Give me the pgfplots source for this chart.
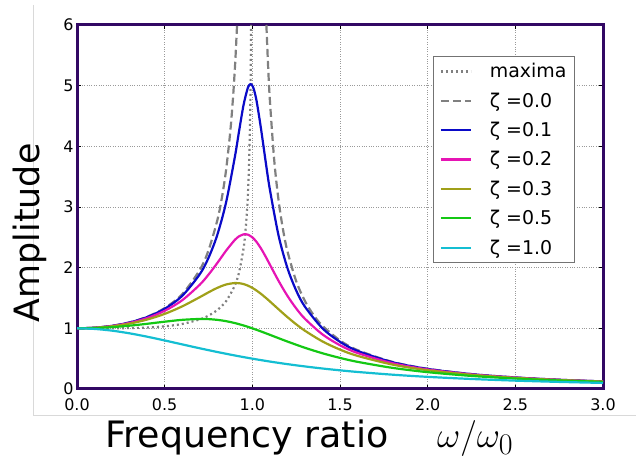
\documentclass[border=0pt]{standalone}
\usepackage{graphicx}
\usepackage{fontspec}
\setmainfont{DejaVu Sans}
\usepackage{pgfplots}
\pgfplotsset{compat=1.18}
\definecolor{framec}{RGB}{50,8,100}
\definecolor{cgray}{RGB}{128,128,128}
\definecolor{cblue}{RGB}{10,10,200}
\definecolor{cmag}{RGB}{230,20,180}
\definecolor{colive}{RGB}{160,160,25}
\definecolor{cgreen}{RGB}{20,200,20}
\definecolor{ccyan}{RGB}{20,190,210}

\begin{document}
\begin{tikzpicture}[x=1bp,y=1bp]
\useasboundingbox (0,0) rectangle (636,460);
\draw[black!15, line width=0.8bp] (33,455) -- (33,45) -- (636,45);
\begin{axis}[
    at={(77bp,71bp)}, anchor=south west,
    scale only axis, width=526bp, height=364bp,
    xmin=0, xmax=3, ymin=0, ymax=6,
    xtick={0,0.5,1,1.5,2,2.5,3}, ytick={0,1,2,3,4,5,6},
    xticklabel style={yshift=-6bp, /pgf/number format/.cd, fixed, fixed zerofill, precision=1},
    /pgf/number format/assume math mode=true,
    tick label style={font=\fontsize{16}{18}\selectfont},
    axis line style={draw=framec, line width=3bp},
    grid=major, major grid style={cgray!80, dotted, line width=0.8bp},
    tick align=inside, major tick length=4bp, tick style={black, line width=0.6bp},
    xlabel={Frequency ratio},
    xlabel style={at={(axis description cs:0.323,-0.133)}, anchor=center, font=\fontsize{36.5}{40}\selectfont},
    ylabel={Amplitude},
    ylabel style={at={(axis description cs:-0.089,0.429)}, anchor=center, font=\fontsize{35}{40}\selectfont},
    after end axis/.code={
        \node at (axis description cs:0.757,-0.136) {\scalebox{1.45}{\Huge$\omega/\omega_0$}};
    },
    legend style={at={(axis description cs:0.9468,0.915)}, anchor=north east,
        draw=black!55, line width=1.2bp, fill=white,
        font=\fontsize{19}{22}\selectfont, inner xsep=6bp, inner ysep=5bp,
        row sep=9.5bp, cells={anchor=west},
        /tikz/every odd column/.append style={column sep=16bp}},
    legend image code/.code={\draw[#1] (0bp,0bp) -- (30bp,0bp);},
    every axis plot/.append style={line width=2.2bp, smooth, mark=none},
]
% maxima locus
\addplot[cgray, dash pattern=on 2bp off 3bp] coordinates {
(0,1)(0.1,1.0001)(0.2,1.0008)(0.3,1.0041)(0.4,1.0131)(0.5,1.0328)(0.6,1.0719)
(0.7,1.1471)(0.75,1.2095)(0.8,1.3015)(0.85,1.4464)(0.9,1.7053)(0.925,1.9320)
(0.95,2.3219)(0.96,2.5764)(0.97,2.9526)(0.975,3.2223)(0.98,3.5891)(0.985,4.1287)
(0.9875,4.5143)(0.99,5.0377)(0.992,5.6238)(0.99298,6)};
\addlegendentry{maxima}
% zeta = 0.0
\addplot[cgray, dash pattern=on 8bp off 4bp] coordinates {
(0,1)(0.1,1.0101)(0.2,1.0417)(0.3,1.0989)(0.4,1.1905)(0.5,1.3333)(0.6,1.5625)
(0.7,1.9608)(0.75,2.2857)(0.8,2.7778)(0.825,3.1311)(0.85,3.6036)(0.875,4.2667)
(0.89,4.8100)(0.9,5.2632)(0.905,5.5256)(0.91287,6)};
\addlegendentry{ζ =0.0}
\addplot[cgray, dash pattern=on 8bp off 4bp, forget plot] coordinates {
(1.08012,6)(1.09,5.3163)(1.1,4.7619)(1.125,3.7647)(1.15,3.1008)(1.175,2.6273)
(1.2,2.2727)(1.25,1.7778)(1.3,1.4493)(1.35,1.2158)(1.4,1.0417)(1.5,0.8)
(1.6,0.6410)(1.8,0.4464)(2.0,0.3333)(2.25,0.2462)(2.5,0.1905)(2.75,0.1524)(3.0,0.125)};
% zeta = 0.1
\addplot[cblue] coordinates {
(0,1)(0.1,1.0099)(0.2,1.0408)(0.3,1.0965)(0.4,1.1851)(0.5,1.3216)(0.6,1.5357)
(0.7,1.8908)(0.75,2.1621)(0.8,2.5384)(0.85,3.0728)(0.9,3.8207)(0.925,4.2613)
(0.95,4.6826)(0.975,4.9713)(0.99,5.025)(1.0,5.0)(1.01,4.9262)(1.025,4.7358)
(1.05,4.2794)(1.075,3.7677)(1.1,3.2880)(1.15,2.5245)(1.2,1.9952)(1.25,1.6245)
(1.3,1.3562)(1.4,1.0)(1.5,0.7779)(1.6,0.6279)(1.8,0.4408)(2.0,0.3304)
(2.25,0.2447)(2.5,0.1896)(2.75,0.1519)(3.0,0.1247)};
\addlegendentry{ζ =0.1}
% zeta = 0.2
\addplot[cmag] coordinates {
(0,1)(0.1,1.0093)(0.2,1.0381)(0.3,1.0895)(0.4,1.1695)(0.5,1.2883)(0.6,1.4630)
(0.7,1.7188)(0.75,1.8851)(0.8,2.0762)(0.85,2.2786)(0.9,2.4566)(0.925,2.5178)
(0.95,2.5490)(0.96,2.5516)(0.975,2.5438)(1.0,2.5)(1.025,2.4206)(1.05,2.3131)
(1.075,2.1868)(1.1,2.0511)(1.15,1.7800)(1.2,1.5357)(1.25,1.3287)(1.3,1.1574)
(1.4,0.8998)(1.5,0.7212)(1.6,0.5931)(1.8,0.4250)(2.0,0.3221)(2.25,0.2403)
(2.5,0.1871)(2.75,0.1503)(3.0,0.1236)};
\addlegendentry{ζ =0.2}
% zeta = 0.3
\addplot[colive] coordinates {
(0,1)(0.1,1.0083)(0.2,1.0336)(0.3,1.0780)(0.4,1.1447)(0.5,1.2380)(0.6,1.3618)
(0.7,1.5136)(0.75,1.5933)(0.8,1.6667)(0.85,1.7223)(0.9,1.7469)(0.925,1.7438)
(0.95,1.7293)(0.975,1.7034)(1.0,1.6667)(1.025,1.6205)(1.05,1.5667)(1.075,1.5071)
(1.1,1.4438)(1.15,1.3129)(1.2,1.1851)(1.25,1.0667)(1.3,0.9603)(1.4,0.7839)
(1.5,0.6492)(1.6,0.5459)(1.8,0.4021)(2.0,0.3095)(2.25,0.2336)(2.5,0.1831)
(2.75,0.1478)(3.0,0.1220)};
\addlegendentry{ζ =0.3}
% zeta = 0.5
\addplot[cgreen] coordinates {
(0,1)(0.1,1.0050)(0.2,1.0198)(0.3,1.0436)(0.4,1.0748)(0.5,1.1094)(0.6,1.1399)
(0.7,1.1546)(0.75,1.1517)(0.8,1.1399)(0.85,1.1184)(0.9,1.0871)(0.95,1.0471)
(1.0,1.0)(1.05,0.9479)(1.1,0.8930)(1.2,0.7824)(1.3,0.6795)(1.4,0.5891)
(1.5,0.5121)(1.6,0.4475)(1.8,0.3480)(2.0,0.2774)(2.25,0.2153)(2.5,0.1720)
(2.75,0.1405)(3.0,0.1170)};
\addlegendentry{ζ =0.5}
% zeta = 1.0
\addplot[ccyan] coordinates {
(0,1)(0.1,0.9901)(0.2,0.9615)(0.3,0.9174)(0.4,0.8621)(0.5,0.8)(0.6,0.7353)
(0.7,0.6711)(0.8,0.6098)(0.9,0.5525)(1.0,0.5)(1.1,0.4525)(1.2,0.4098)
(1.3,0.3717)(1.4,0.3378)(1.5,0.3077)(1.6,0.2809)(1.8,0.2358)(2.0,0.2)
(2.25,0.1649)(2.5,0.1379)(2.75,0.1168)(3.0,0.1)};
\addlegendentry{ζ =1.0}
\end{axis}
\end{tikzpicture}
\end{document}
